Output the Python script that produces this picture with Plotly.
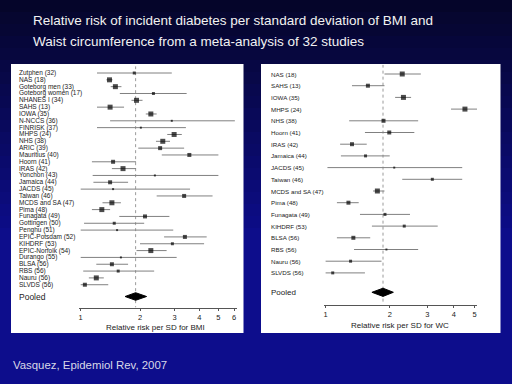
import math
import plotly.graph_objects as go

# ---------------- data ----------------
bmi_studies = ["Zutphen (32)", "NAS (18)", "Goteborg men (33)", "Goteborg women (17)",
               "NHANES I (34)", "SAHS (13)", "IOWA (35)", "N-NCCS (36)", "FINRISK (37)",
               "MHPS (24)", "NHS (38)", "ARIC (39)", "Mauritius (40)", "Hoorn (41)",
               "IRAS (42)", "Yonchon (43)", "Jamaica (44)", "JACDS (45)", "Taiwan (46)",
               "MCDS and SA (47)", "Pima (48)", "Funagata (49)", "Gottingen (50)",
               "Penghu (51)", "EPIC-Potsdam (52)", "KIHDRF (53)", "EPIC-Norfolk (54)",
               "Durango (55)", "BLSA (56)", "RBS (56)", "Nauru (56)", "SLVDS (56)"]
bmi_rr = [1.87, 1.40, 1.50, 2.34, 1.92, 1.41, 2.27, 2.90, 2.02, 2.98, 2.61, 2.53, 3.56, 1.46,
          1.64, 2.38, 1.41, 1.46, 3.35, 1.44, 1.28, 2.12, 1.48, 1.53, 3.38, 2.92, 2.27, 1.60,
          1.44, 1.55, 1.20, 1.05]
bmi_lo = [1.21, 1.35, 1.42, 1.58, 1.81, 1.21, 2.14, 1.41, 1.21, 2.75, 2.41, 1.96, 2.58, 1.14,
          1.44, 1.15, 1.16, 1.00, 2.43, 1.29, 1.14, 1.57, 1.04, 1.00, 2.65, 2.00, 1.92, 1.00,
          1.20, 1.03, 1.10, 1.00]
bmi_hi = [2.90, 1.45, 1.61, 3.45, 2.06, 1.66, 2.43, 6.06, 3.42, 3.26, 2.84, 3.35, 5.00, 1.91,
          1.91, 5.00, 1.74, 3.59, 4.67, 1.60, 1.41, 2.82, 2.10, 2.95, 4.36, 4.23, 2.73, 3.07,
          1.74, 2.36, 1.31, 1.38]
bmi_pooled = [1.90, 1.68, 2.16]   # estimate, lower, upper

wc_studies = ["NAS (18)", "SAHS (13)", "IOWA (35)", "MHPS (24)", "NHS (38)", "Hoorn (41)",
              "IRAS (42)", "Jamaica (44)", "JACDS (45)", "Taiwan (46)", "MCDS and SA (47)",
              "Pima (48)", "Funagata (49)", "KIHDRF (53)", "BLSA (56)", "RBS (56)",
              "Nauru (56)", "SLVDS (56)"]
wc_rr = [2.29, 1.58, 2.32, 4.51, 1.87, 1.99, 1.33, 1.54, 2.10, 3.17, 1.75, 1.28, 1.90, 2.34,
         1.35, 1.93, 1.31, 1.08]
wc_lo = [1.89, 1.33, 2.12, 3.88, 1.29, 1.53, 1.17, 1.18, 1.02, 2.29, 1.67, 1.13, 1.45, 1.65,
         1.13, 1.36, 1.00, 1.00]
wc_hi = [2.80, 1.89, 2.52, 5.31, 2.72, 2.61, 1.56, 2.00, 4.38, 4.38, 1.89, 1.43, 2.49, 3.36,
         1.62, 2.72, 1.83, 1.53]
wc_pooled = [1.86, 1.65, 2.08]

bmi_ticks = [1, 2, 3, 4, 5, 6]
wc_ticks = [1, 2, 3, 4, 5]

title_lines = ["Relative risk of incident diabetes per standard deviation of BMI and",
               "Waist circumference from a meta-analysis of 32 studies"]
bmi_axis_title = "Relative risk per SD for BMI"
wc_axis_title = "Relative risk per SD for WC"
source_text = "Vasquez, Epidemiol Rev, 2007"

# ---------------- styles ----------------
bmi_msize = [3, 5, 5, 3, 5, 5, 5, 2, 2, 5, 5, 4, 4, 4, 5, 2, 4, 2, 4, 5, 5, 4, 3, 2, 4, 3, 5,
             2, 4, 3, 5, 4]
wc_msize = [5, 4, 5, 5, 4, 4, 4, 3, 2, 3, 5, 4, 3, 3, 4, 2, 3, 3]

W, H = 512, 384
FONT = "Liberation Sans, Arial, Helvetica, sans-serif"


def px(x):
    return x / W


def py(y):
    return 1 - y / H


fig = go.Figure()


def add_panel(names, rr, lo, hi, pooled, msize, xa, ya, pooled_y, dh):
    n = len(names)
    ys = list(range(n))
    cx, cy = [], []
    for i in range(n):
        cx += [lo[i], hi[i], None]
        cy += [ys[i], ys[i], None]
    fig.add_trace(go.Scatter(x=cx, y=cy, mode="lines", xaxis=xa, yaxis=ya,
                             line=dict(color="#808080", width=1), hoverinfo="skip",
                             showlegend=False))
    fig.add_trace(go.Scatter(x=rr, y=ys, mode="markers", xaxis=xa, yaxis=ya,
                             marker=dict(symbol="square", size=msize, color="black",
                                         line=dict(width=0)),
                             showlegend=False, cliponaxis=False))
    est, plo, phi = pooled
    fig.add_trace(go.Scatter(x=[plo, est, phi, est, plo],
                             y=[pooled_y, pooled_y - dh, pooled_y, pooled_y + dh, pooled_y],
                             mode="lines", fill="toself", fillcolor="black",
                             line=dict(color="black", width=1), xaxis=xa, yaxis=ya,
                             showlegend=False))


# left panel rows: y of row0 = 73 px, pitch 6.83 px
L_pitch = 6.83
L_y0 = 73.0
L_top = -1.0
L_axis_px = 307.5
L_bot = (L_axis_px - L_y0) / L_pitch
L_pooled_y = (296.5 - L_y0) / L_pitch

R_pitch = 11.7
R_y0 = 74.0
R_top = -0.8
R_axis_px = 304.5
R_bot = (R_axis_px - R_y0) / R_pitch
R_pooled_y = (292.3 - R_y0) / R_pitch

# reference dotted lines at pooled estimate
fig.add_trace(go.Scatter(x=[bmi_pooled[0], bmi_pooled[0]], y=[L_top, L_bot], mode="lines",
                         xaxis="x", yaxis="y", line=dict(color="#9a9a9a", width=1, dash="dot"),
                         showlegend=False, hoverinfo="skip"))
fig.add_trace(go.Scatter(x=[wc_pooled[0], wc_pooled[0]], y=[R_top, R_bot], mode="lines",
                         xaxis="x2", yaxis="y2", line=dict(color="#9a9a9a", width=1, dash="dot"),
                         showlegend=False, hoverinfo="skip"))

add_panel(bmi_studies, bmi_rr, bmi_lo, bmi_hi, bmi_pooled, bmi_msize, "x", "y",
          L_pooled_y, 3.8 / L_pitch)
add_panel(wc_studies, wc_rr, wc_lo, wc_hi, wc_pooled, wc_msize, "x2", "y2",
          R_pooled_y, 4.1 / R_pitch)

# ---------------- background ----------------
shapes = []
top_c = (5, 5, 40)
bot_c = (13, 13, 140)
nb = 32
for k in range(nb):
    y0 = k * H / nb
    y1 = (k + 1) * H / nb
    t = min(1.0, (y0 + y1) / 2 / 240.0)
    c = tuple(int(round(top_c[j] + (bot_c[j] - top_c[j]) * t)) for j in range(3))
    shapes.append(dict(type="rect", xref="paper", yref="paper", x0=0, x1=1,
                       y0=py(y1) - 0.002, y1=py(y0), line=dict(width=0),
                       fillcolor="rgb(%d,%d,%d)" % c, layer="below"))
# white panels
shapes.append(dict(type="rect", xref="paper", yref="paper", x0=px(11), x1=px(243.5),
                   y0=py(333), y1=py(64), line=dict(width=0), fillcolor="white",
                   layer="below"))
shapes.append(dict(type="rect", xref="paper", yref="paper", x0=px(261), x1=px(500.5),
                   y0=py(333), y1=py(64), line=dict(width=0), fillcolor="white",
                   layer="below"))

# ---------------- annotations ----------------
ann = []
for i, s in enumerate(bmi_studies):
    ann.append(dict(text=s, xref="paper", yref="y", x=px(17), y=i, xanchor="left",
                    yanchor="middle", showarrow=False,
                    font=dict(family=FONT, size=6.5, color="#222")))
ann.append(dict(text="Pooled", xref="paper", yref="y", x=px(17), y=L_pooled_y,
                xanchor="left", yanchor="middle", showarrow=False,
                font=dict(family=FONT, size=8.5, color="#222")))
for i, s in enumerate(wc_studies):
    ann.append(dict(text=s, xref="paper", yref="y2", x=px(269), y=i, xanchor="left",
                    yanchor="middle", showarrow=False,
                    font=dict(family=FONT, size=6.2, color="#222")))
ann.append(dict(text="Pooled", xref="paper", yref="y2", x=px(269), y=R_pooled_y,
                xanchor="left", yanchor="middle", showarrow=False,
                font=dict(family=FONT, size=8, color="#222")))
ann.append(dict(text=bmi_axis_title, xref="paper", yref="paper", x=px(155), y=py(327.5),
                xanchor="center", yanchor="middle", showarrow=False,
                font=dict(family=FONT, size=8, color="#222")))
ann.append(dict(text=wc_axis_title, xref="paper", yref="paper", x=px(400), y=py(325.5),
                xanchor="center", yanchor="middle", showarrow=False,
                font=dict(family=FONT, size=8, color="#222")))
ann.append(dict(text=title_lines[0], xref="paper", yref="paper", x=px(31), y=py(20.5),
                xanchor="left", yanchor="middle", showarrow=False,
                font=dict(family=FONT, size=13.5, color="#f2f2f2")))
ann.append(dict(text=title_lines[1], xref="paper", yref="paper", x=px(31), y=py(41.5),
                xanchor="left", yanchor="middle", showarrow=False,
                font=dict(family=FONT, size=13.5, color="#f2f2f2")))
ann.append(dict(text=source_text, xref="paper", yref="paper", x=px(11), y=py(365),
                xanchor="left", yanchor="middle", showarrow=False,
                font=dict(family=FONT, size=11.4, color="#d8d8e8")))

# ---------------- axes ----------------
Lx0, Lx1 = 79.0, 237.0
R0x, R1x = 324.0, 477.0


def lrange(p0, p1, origin, scale):
    return [(p0 - origin) / scale, (p1 - origin) / scale]


common_x = dict(type="log", showgrid=False, zeroline=False, showline=True,
                linecolor="#555", linewidth=1, ticks="outside", ticklen=2, tickwidth=1,
                tickcolor="#555", tickfont=dict(family=FONT, size=7.5, color="#222"),
                fixedrange=True)

fig.update_layout(
    width=W, height=H, margin=dict(l=0, r=0, t=0, b=0),
    paper_bgcolor="rgb(10,10,110)", plot_bgcolor="rgba(0,0,0,0)",
    showlegend=False, shapes=shapes, annotations=ann,
    xaxis=dict(domain=[px(Lx0), px(Lx1)], range=lrange(Lx0, Lx1, 80.7, 197.0),
               anchor="y", tickvals=bmi_ticks, ticktext=[str(t) for t in bmi_ticks],
               **common_x),
    yaxis=dict(domain=[py(L_axis_px), py(L_y0 + L_top * L_pitch)], range=[L_bot, L_top],
               visible=False, anchor="x", fixedrange=True),
    xaxis2=dict(domain=[px(R0x), px(R1x)], range=lrange(R0x, R1x, 325.6, 213.0),
                anchor="y2", tickvals=wc_ticks, ticktext=[str(t) for t in wc_ticks],
                **common_x),
    yaxis2=dict(domain=[py(R_axis_px), py(R_y0 + R_top * R_pitch)], range=[R_bot, R_top],
                visible=False, anchor="x2", fixedrange=True),
)

fig.write_html("out.html",
               config={"displayModeBar": False, "staticPlot": True},
               post_script="document.body.style.margin='0';"
                           "document.body.style.padding='0';"
                           "document.body.style.overflow='hidden';")
